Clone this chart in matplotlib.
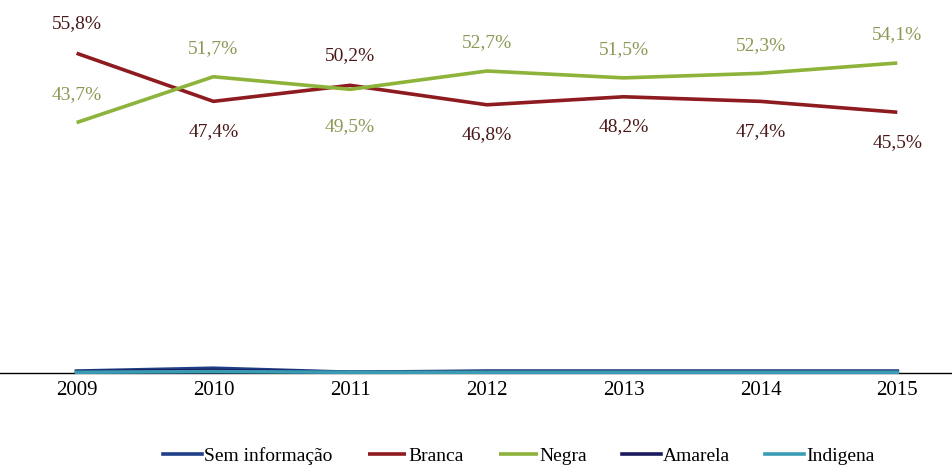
import numpy as np
import matplotlib
matplotlib.use("Agg")
import matplotlib.pyplot as plt

# data (percent)
years = [2009, 2010, 2011, 2012, 2013, 2014, 2015]
sem_info = [0.3, 0.8, 0.1, 0.3, 0.3, 0.3, 0.3]
branca = [55.8, 47.4, 50.2, 46.8, 48.2, 47.4, 45.5]
negra = [43.7, 51.7, 49.5, 52.7, 51.5, 52.3, 54.1]
amarela = [0.2, 0.4, 0.1, 0.2, 0.2, 0.2, 0.2]
indigena = [0.1, 0.2, 0.1, 0.1, 0.1, 0.1, 0.1]

# label above (+1) or below (-1) the line
branca_pos = [1, -1, 1, -1, -1, -1, -1]
negra_pos = [1, 1, -1, 1, 1, 1, 1]

plt.rcParams['font.family'] = ['Liberation Serif', 'DejaVu Serif']

fig = plt.figure(figsize=(9.52, 4.66), dpi=100)
ax = fig.add_axes([0.0, 0.2, 1.0, 0.8])

c_sem = '#1f3f86'
c_branca = '#8e1b1f'
c_negra = '#8db33a'
c_amarela = '#1a1a5c'
c_ind = '#3a9cb4'

lw = 2.6
ax.plot(years, branca, color=c_branca, lw=lw, label='Branca', solid_capstyle='butt')
ax.plot(years, negra, color=c_negra, lw=lw, label='Negra', solid_capstyle='butt')
ax.plot(years, sem_info, color=c_sem, lw=lw, label='Sem informação', clip_on=False)
ax.plot(years, amarela, color=c_amarela, lw=lw, label='Amarela', clip_on=False)
ax.plot(years, indigena, color=c_ind, lw=lw, label='Indigena', clip_on=False)

def fmt(v):
    return ('%.1f%%' % v).replace('.', ',')

for x, v, p in zip(years, branca, branca_pos):
    ax.annotate(fmt(v), (x, v), xytext=(0, 30 * p), textcoords='offset pixels',
                ha='center', va='center', fontsize=14, color='#4a1818')
for x, v, p in zip(years, negra, negra_pos):
    dy = 28 if p > 0 else -37
    ax.annotate(fmt(v), (x, v), xytext=(0, dy), textcoords='offset pixels',
                ha='center', va='center', fontsize=14, color='#8a9a55')

ax.axhline(0, color='black', lw=1.0, zorder=0, clip_on=False)
ax.set_xlim(2008.44, 2015.40)
ax.set_ylim(0, 65.1)
ax.set_yticks([])
ax.set_xticks(years)
ax.tick_params(axis='x', length=0, labelsize=15, pad=6)
for s in ax.spines.values():
    s.set_visible(False)

handles, labels = ax.get_legend_handles_labels()
order = [2, 0, 1, 3, 4]
fig.legend([handles[i] for i in order], [labels[i] for i in order],
           loc='lower center', bbox_to_anchor=(0.545, -0.035), ncol=5, frameon=False,
           fontsize=14, handlelength=2.0, handletextpad=0.1, columnspacing=1.8)

fig.savefig('out.png', dpi=100)
